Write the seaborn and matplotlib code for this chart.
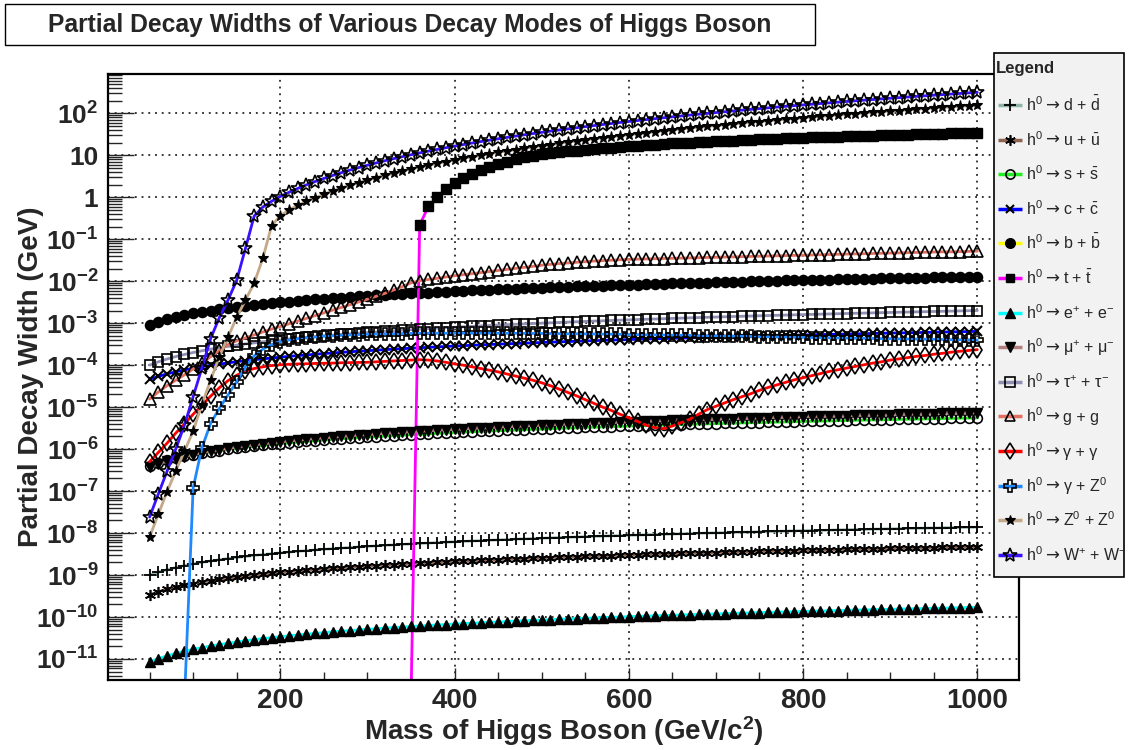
import numpy as np
import matplotlib
matplotlib.use("Agg")
import matplotlib.pyplot as plt
from matplotlib.patches import Rectangle
from matplotlib.ticker import LogLocator, NullFormatter, FixedLocator
import seaborn as sns

# ---------------- data ----------------
MASS = list(range(50, 1001, 10))          # Higgs mass (GeV/c^2), 96 points
NAN = np.nan

W_DD = [1.00, 1.17, 1.34, 1.51, 1.68, 1.84, 2.00, 2.16, 2.31, 2.47,
        2.62, 2.77, 2.93, 3.08, 3.23, 3.37, 3.52, 3.67, 3.81, 3.96,
        4.10, 4.25, 4.39, 4.53, 4.67, 4.81, 4.95, 5.09, 5.23, 5.37,
        5.51, 5.65, 5.78, 5.92, 6.06, 6.19, 6.33, 6.47, 6.60, 6.73,
        6.87, 7.00, 7.14, 7.27, 7.40, 7.53, 7.67, 7.80, 7.93, 8.06,
        8.19, 8.32, 8.45, 8.58, 8.71, 8.84, 8.97, 9.10, 9.23, 9.35,
        9.48, 9.61, 9.74, 9.87, 9.99, 10.1, 10.2, 10.4, 10.5, 10.6,
        10.7, 10.9, 11.0, 11.1, 11.3, 11.4, 11.5, 11.6, 11.7, 11.9,
        12.0, 12.1, 12.2, 12.4, 12.5, 12.6, 12.7, 12.9, 13.0, 13.1,
        13.2, 13.3, 13.5, 13.6, 13.7, 13.8]            # x 1e-9 GeV
W_UU = [3.40, 3.99, 4.57, 5.13, 5.70, 6.25, 6.79, 7.33, 7.86, 8.38,
        8.91, 9.43, 9.95, 10.5, 11.0, 11.5, 12.0, 12.5, 13.0, 13.5,
        13.9, 14.4, 14.9, 15.4, 15.9, 16.4, 16.8, 17.3, 17.8, 18.3,
        18.7, 19.2, 19.7, 20.1, 20.6, 21.1, 21.5, 22.0, 22.4, 22.9,
        23.4, 23.8, 24.3, 24.7, 25.2, 25.6, 26.1, 26.5, 27.0, 27.4,
        27.8, 28.3, 28.7, 29.2, 29.6, 30.1, 30.5, 30.9, 31.4, 31.8,
        32.2, 32.7, 33.1, 33.5, 34.0, 34.4, 34.9, 35.3, 35.7, 36.1,
        36.6, 37.0, 37.4, 37.8, 38.3, 38.7, 39.1, 39.5, 40.0, 40.4,
        40.8, 41.2, 41.6, 42.1, 42.5, 42.9, 43.3, 43.7, 44.1, 44.5,
        44.9, 45.4, 45.8, 46.2, 46.6, 47.1]            # x 1e-10 GeV
W_SS = [4.00, 4.69, 5.37, 6.04, 6.70, 7.35, 7.99, 8.62, 9.24, 9.86,
        10.5, 11.1, 11.7, 12.3, 12.9, 13.5, 14.1, 14.7, 15.3, 15.8,
        16.4, 17.0, 17.6, 18.1, 18.7, 19.2, 19.8, 20.4, 20.9, 21.5,
        22.0, 22.6, 23.1, 23.7, 24.2, 24.8, 25.3, 25.9, 26.4, 26.9,
        27.5, 28.0, 28.5, 29.1, 29.6, 30.1, 30.7, 31.2, 31.7, 32.2,
        32.8, 33.3, 33.8, 34.3, 34.8, 35.4, 35.9, 36.4, 36.9, 37.4,
        37.9, 38.4, 39.0, 39.5, 40.0, 40.5, 41.0, 41.5, 42.0, 42.5,
        43.0, 43.5, 44.0, 44.5, 45.0, 45.5, 46.0, 46.5, 47.0, 47.5,
        48.0, 48.5, 49.0, 49.5, 50.0, 50.4, 50.9, 51.4, 51.9, 52.4,
        52.9, 53.4, 53.9, 54.4, 54.8, 55.4]            # x 1e-7 GeV
W_CC = [4.60, 5.40, 6.18, 6.95, 7.71, 8.45, 9.19, 9.91, 10.6, 11.3,
        12.1, 12.8, 13.5, 14.1, 14.8, 15.5, 16.2, 16.9, 17.5, 18.2,
        18.9, 19.5, 20.2, 20.8, 21.5, 22.1, 22.8, 23.4, 24.1, 24.7,
        25.3, 26.0, 26.6, 27.2, 27.9, 28.5, 29.1, 29.7, 30.4, 31.0,
        31.6, 32.2, 32.8, 33.4, 34.0, 34.7, 35.3, 35.9, 36.5, 37.1,
        37.7, 38.3, 38.9, 39.5, 40.1, 40.7, 41.3, 41.9, 42.4, 43.0,
        43.6, 44.2, 44.8, 45.4, 46.0, 46.6, 47.2, 47.7, 48.3, 48.9,
        49.5, 50.0, 50.6, 51.2, 51.8, 52.3, 52.9, 53.5, 54.1, 54.6,
        55.2, 55.8, 56.3, 56.9, 57.5, 58.0, 58.6, 59.2, 59.7, 60.3,
        60.8, 61.4, 62.0, 62.5, 63.1, 63.7]            # x 1e-5 GeV
W_BB = [9.30, 10.9, 12.5, 14.0, 15.6, 17.1, 18.6, 20.0, 21.5, 22.9,
        24.4, 25.8, 27.2, 28.6, 30.0, 31.4, 32.7, 34.1, 35.5, 36.8,
        38.1, 39.5, 40.8, 42.1, 43.4, 44.8, 46.1, 47.4, 48.7, 50.0,
        51.2, 52.5, 53.8, 55.1, 56.3, 57.6, 58.9, 60.1, 61.4, 62.6,
        63.9, 65.1, 66.4, 67.6, 68.8, 70.1, 71.3, 72.5, 73.7, 75.0,
        76.2, 77.4, 78.6, 79.8, 81.0, 82.2, 83.4, 84.6, 85.8, 87.0,
        88.2, 89.4, 90.6, 91.7, 92.9, 94.1, 95.3, 96.4, 97.7, 98.8,
        100., 101., 102., 104., 105., 106., 107., 108., 109., 110.,
        112., 113., 114., 115., 116., 117., 118., 120., 121., 122.,
        123., 124., 125., 126., 128., 129.]            # x 1e-4 GeV
W_TT = [NAN, NAN, NAN, NAN, NAN, NAN, NAN, NAN, NAN, NAN,
        NAN, NAN, NAN, NAN, NAN, NAN, NAN, NAN, NAN, NAN,
        NAN, NAN, NAN, NAN, NAN, NAN, NAN, NAN, NAN, NAN,
        1e-12, 0.219, 0.603, 1.02, 1.58, 2.19, 2.82, 3.55, 4.37, 5.25,
        6.17, 7.08, 7.94, 8.91, 9.77, 10.7, 11.2, 11.7, 12.3, 12.9,
        13.5, 14.0, 14.6, 15.1, 15.7, 16.2, 16.8, 17.4, 17.9, 18.5,
        19.1, 19.5, 20.0, 20.4, 20.9, 21.4, 21.9, 22.4, 22.9, 23.4,
        24.0, 24.4, 24.9, 25.4, 25.8, 26.3, 26.7, 27.0, 27.4, 27.8,
        28.2, 28.6, 29.0, 29.4, 29.8, 30.2, 30.6, 31.0, 31.5, 31.9,
        32.4, 32.8, 33.3, 33.7, 34.2, 34.7]            # GeV
W_EE = [8.50, 10.2, 11.9, 13.6, 15.3, 17.0, 18.7, 20.4, 22.1, 23.8,
        25.5, 27.2, 28.9, 30.6, 32.3, 34.0, 35.7, 37.4, 39.1, 40.8,
        42.5, 44.2, 45.9, 47.6, 49.3, 51.0, 52.7, 54.4, 56.1, 57.8,
        59.5, 61.2, 62.9, 64.6, 66.3, 68.0, 69.7, 71.4, 73.1, 74.8,
        76.5, 78.2, 79.9, 81.6, 83.3, 85.0, 86.7, 88.4, 90.1, 91.8,
        93.5, 95.2, 96.9, 98.6, 100.3, 102.0, 103.7, 105.4, 107.1, 108.8,
        110.5, 112.2, 113.9, 115.6, 117.3, 119.0, 120.7, 122.4, 124.1, 125.8,
        127.5, 129.2, 130.9, 132.6, 134.3, 136.0, 137.7, 139.4, 141.1, 142.8,
        144.5, 146.2, 147.9, 149.6, 151.3, 153.0, 154.7, 156.4, 158.1, 159.8,
        161.5, 163.2, 164.9, 166.6, 168.3, 170.0]      # x 1e-12 GeV
W_MUMU = [3.70, 4.44, 5.18, 5.92, 6.66, 7.40, 8.14, 8.88, 9.62, 10.36,
          11.10, 11.84, 12.58, 13.32, 14.06, 14.80, 15.54, 16.28, 17.02, 17.76,
          18.50, 19.24, 19.98, 20.72, 21.46, 22.20, 22.94, 23.68, 24.42, 25.16,
          25.90, 26.64, 27.38, 28.12, 28.86, 29.60, 30.34, 31.08, 31.82, 32.56,
          33.30, 34.04, 34.78, 35.52, 36.26, 37.00, 37.74, 38.48, 39.22, 39.96,
          40.70, 41.44, 42.18, 42.92, 43.66, 44.40, 45.14, 45.88, 46.62, 47.36,
          48.10, 48.84, 49.58, 50.32, 51.06, 51.80, 52.54, 53.28, 54.02, 54.76,
          55.50, 56.24, 56.98, 57.72, 58.46, 59.20, 59.94, 60.68, 61.42, 62.16,
          62.90, 63.64, 64.38, 65.12, 65.86, 66.60, 67.34, 68.08, 68.82, 69.56,
          70.30, 71.04, 71.78, 72.52, 73.26, 74.00]    # x 1e-7 GeV
W_TAUTAU = [1.0, 1.2, 1.4, 1.6, 1.8, 2.0, 2.2, 2.4, 2.6, 2.8,
            3.0, 3.2, 3.4, 3.6, 3.8, 4.0, 4.2, 4.4, 4.6, 4.8,
            5.0, 5.2, 5.4, 5.6, 5.8, 6.0, 6.2, 6.4, 6.6, 6.8,
            7.0, 7.2, 7.4, 7.6, 7.8, 8.0, 8.2, 8.4, 8.6, 8.8,
            9.0, 9.2, 9.4, 9.6, 9.8, 10.0, 10.2, 10.4, 10.6, 10.8,
            11.0, 11.2, 11.4, 11.6, 11.8, 12.0, 12.2, 12.4, 12.6, 12.8,
            13.0, 13.2, 13.4, 13.6, 13.8, 14.0, 14.2, 14.4, 14.6, 14.8,
            15.0, 15.2, 15.4, 15.6, 15.8, 16.0, 16.2, 16.4, 16.6, 16.8,
            17.0, 17.2, 17.4, 17.6, 17.8, 18.0, 18.2, 18.4, 18.6, 18.8,
            19.0, 19.2, 19.4, 19.6, 19.8, 20.0]        # x 1e-4 GeV
W_GG = [1.55e-5, 2.29e-5, 3.24e-5, 4.37e-5, 5.89e-5, 8.13e-5, 1.12e-4, 1.58e-4, 2.24e-4, 3.09e-4,
        3.80e-4, 4.47e-4, 5.25e-4, 6.17e-4, 7.24e-4, 8.32e-4, 9.66e-4, 1.12e-3, 1.30e-3, 1.51e-3,
        1.76e-3, 2.04e-3, 2.37e-3, 2.75e-3, 3.20e-3, 3.72e-3, 4.37e-3, 5.13e-3, 6.17e-3, 7.41e-3,
        9.12e-3, 1.02e-2, 1.10e-2, 1.17e-2, 1.26e-2, 1.35e-2, 1.43e-2, 1.51e-2, 1.60e-2, 1.70e-2,
        1.80e-2, 1.91e-2, 2.02e-2, 2.14e-2, 2.26e-2, 2.40e-2, 2.51e-2, 2.63e-2, 2.72e-2, 2.82e-2,
        2.92e-2, 3.02e-2, 3.09e-2, 3.16e-2, 3.24e-2, 3.31e-2, 3.35e-2, 3.39e-2, 3.43e-2, 3.47e-2,
        3.51e-2, 3.55e-2, 3.59e-2, 3.63e-2, 3.67e-2, 3.72e-2, 3.76e-2, 3.80e-2, 3.85e-2, 3.89e-2,
        3.94e-2, 3.98e-2, 4.03e-2, 4.07e-2, 4.12e-2, 4.17e-2, 4.22e-2, 4.27e-2, 4.32e-2, 4.37e-2,
        4.42e-2, 4.47e-2, 4.52e-2, 4.57e-2, 4.62e-2, 4.68e-2, 4.73e-2, 4.79e-2, 4.84e-2, 4.90e-2,
        4.95e-2, 5.01e-2, 5.01e-2, 5.07e-2, 5.13e-2, 5.19e-2]
W_AA = [5.01e-7, 8.32e-7, 1.38e-6, 2.40e-6, 3.98e-6, 6.76e-6, 1.10e-5, 1.82e-5, 2.88e-5, 4.27e-5,
        5.75e-5, 7.24e-5, 8.32e-5, 9.12e-5, 9.77e-5, 1.02e-4, 1.05e-4, 1.07e-4, 1.08e-4, 1.10e-4,
        1.11e-4, 1.12e-4, 1.14e-4, 1.15e-4, 1.16e-4, 1.17e-4, 1.20e-4, 1.23e-4, 1.26e-4, 1.29e-4,
        1.32e-4, 1.35e-4, 1.32e-4, 1.26e-4, 1.17e-4, 1.07e-4, 1.00e-4, 9.12e-5, 8.32e-5, 7.59e-5,
        6.92e-5, 6.17e-5, 5.50e-5, 4.90e-5, 4.37e-5, 3.80e-5, 3.24e-5, 2.69e-5, 2.24e-5, 1.86e-5,
        1.51e-5, 1.23e-5, 1.00e-5, 8.32e-6, 6.76e-6, 5.62e-6, 4.57e-6, 3.72e-6, 3.24e-6, 3.09e-6,
        3.55e-6, 4.27e-6, 5.13e-6, 6.76e-6, 8.71e-6, 1.05e-5, 1.26e-5, 1.51e-5, 1.78e-5, 2.09e-5,
        2.51e-5, 2.95e-5, 3.39e-5, 3.89e-5, 4.47e-5, 5.01e-5, 5.62e-5, 6.31e-5, 7.08e-5, 7.76e-5,
        8.51e-5, 9.33e-5, 1.02e-4, 1.12e-4, 1.20e-4, 1.32e-4, 1.41e-4, 1.51e-4, 1.62e-4, 1.70e-4,
        1.82e-4, 1.91e-4, 2.04e-4, 2.14e-4, 2.24e-4, 2.34e-4]
W_AZ = [NAN, NAN, NAN, NAN, 1e-12, 1.20e-7, 1.07e-6, 4.07e-6, 9.33e-6, 1.95e-5,
        4.07e-5, 9.12e-5, 1.66e-4, 2.40e-4, 3.09e-4, 3.63e-4, 3.98e-4, 4.27e-4, 4.47e-4, 4.68e-4,
        4.90e-4, 5.01e-4, 5.13e-4, 5.25e-4, 5.37e-4, 5.43e-4, 5.50e-4, 5.56e-4, 5.62e-4, 5.65e-4,
        5.69e-4, 5.75e-4, 5.75e-4, 5.75e-4, 5.75e-4, 5.75e-4, 5.75e-4, 5.75e-4, 5.75e-4, 5.75e-4,
        5.75e-4, 5.75e-4, 5.73e-4, 5.71e-4, 5.70e-4, 5.69e-4, 5.66e-4, 5.64e-4, 5.61e-4, 5.59e-4,
        5.56e-4, 5.53e-4, 5.49e-4, 5.45e-4, 5.41e-4, 5.37e-4, 5.33e-4, 5.30e-4, 5.26e-4, 5.22e-4,
        5.19e-4, 5.15e-4, 5.12e-4, 5.08e-4, 5.05e-4, 5.01e-4, 4.97e-4, 4.92e-4, 4.88e-4, 4.83e-4,
        4.79e-4, 4.75e-4, 4.70e-4, 4.66e-4, 4.61e-4, 4.57e-4, 4.54e-4, 4.51e-4, 4.48e-4, 4.45e-4,
        4.42e-4, 4.39e-4, 4.36e-4, 4.33e-4, 4.30e-4, 4.27e-4, 4.24e-4, 4.21e-4, 4.18e-4, 4.15e-4,
        4.12e-4, 4.09e-4, 4.06e-4, 4.04e-4, 4.01e-4, 3.98e-4]
W_ZZ = [7.94e-9, 2.82e-8, 9.55e-8, 3.02e-7, 8.91e-7, 2.69e-6, 1.15e-5, 4.37e-5, 1.58e-4, 4.68e-4,
        1.38e-3, 3.55e-3, 8.91e-3, 3.55e-2, 0.209, 0.363, 0.496, 0.638, 0.794, 0.973,
        1.175, 1.396, 1.644, 1.919, 2.223, 2.553, 2.917, 3.311, 3.733, 4.188,
        4.677, 5.212, 5.768, 6.368, 6.998, 7.674, 8.411, 9.170, 9.969, 10.81,
        11.70, 12.63, 13.60, 14.62, 15.69, 16.81, 17.98, 19.19, 20.47, 21.79,
        23.16, 24.59, 26.08, 27.62, 29.22, 30.87, 32.59, 34.36, 36.20, 38.10,
        40.06, 42.09, 44.18, 46.34, 48.56, 50.85, 53.21, 55.64, 58.14, 60.72,
        63.37, 66.09, 68.89, 71.76, 74.71, 77.73, 80.84, 84.03, 87.30, 90.65,
        94.08, 97.60, 101.2, 104.9, 108.6, 112.5, 116.5, 120.5, 124.6, 128.8,
        133.1, 137.5, 142.1, 146.7, 151.3, 156.1]
W_WW = [2.40e-8, 8.51e-8, 2.95e-7, 1.00e-6, 3.72e-6, 1.78e-5, 8.51e-5, 4.27e-4, 1.35e-3, 3.55e-3,
        1.05e-2, 6.03e-2, 0.355, 0.585, 0.802, 1.04, 1.313, 1.621, 1.971, 2.365,
        2.806, 3.296, 3.838, 4.434, 5.085, 5.794, 6.564, 7.396, 8.29, 9.25,
        10.28, 11.37, 12.55, 13.79, 15.11, 16.50, 17.97, 19.52, 21.16, 22.89,
        24.70, 26.60, 28.59, 30.68, 32.86, 35.14, 37.51, 39.98, 42.57, 45.25,
        48.03, 50.93, 53.95, 57.07, 60.30, 63.66, 67.12, 70.72, 74.43, 78.26,
        82.22, 86.32, 90.54, 94.90, 99.39, 104.0, 108.8, 113.7, 118.8, 123.9,
        129.5, 134.7, 140.4, 146.2, 152.1, 158.2, 164.4, 170.8, 177.4, 184.1,
        191.0, 198.1, 205.3, 212.7, 220.3, 228.1, 236.0, 244.1, 252.4, 260.9,
        269.5, 278.4, 287.4, 296.7, 306.1, 315.7]

# legend label: "h^0 -> <final state>"
LABEL_LHS = r'h$^{0}$'
LABEL_ARROW = '→'
LABEL_RHS = [r'd + $\bar{\mathrm{d}}$', r'u + $\bar{\mathrm{u}}$', r's + $\bar{\mathrm{s}}$',
             r'c + $\bar{\mathrm{c}}$', r'b + $\bar{\mathrm{b}}$', r't + $\bar{\mathrm{t}}$',
             r'e$^{+}$ + e$^{-}$', r'μ$^{+}$ + μ$^{-}$', r'τ$^{+}$ + τ$^{-}$',
             'g + g', 'γ + γ', r'γ + Z$^{0}$', r'Z$^{0}$ + Z$^{0}$', r'W$^{+}$ + W$^{-}$']
UNITS = [1e-9, 1e-10, 1e-7, 1e-5, 1e-4, 1.0, 1e-12, 1e-7, 1e-4, 1.0, 1.0, 1.0, 1.0, 1.0]
SERIES = [W_DD, W_UU, W_SS, W_CC, W_BB, W_TT, W_EE, W_MUMU, W_TAUTAU, W_GG, W_AA, W_AZ, W_ZZ, W_WW]

XTICKS = [200, 400, 600, 800, 1000]
YTICK_EXP = list(range(-11, 3))
YTICK_LABELS = [r'$\mathbf{10^{-11}}$', r'$\mathbf{10^{-10}}$', r'$\mathbf{10^{-9}}$',
                r'$\mathbf{10^{-8}}$', r'$\mathbf{10^{-7}}$', r'$\mathbf{10^{-6}}$',
                r'$\mathbf{10^{-5}}$', r'$\mathbf{10^{-4}}$', r'$\mathbf{10^{-3}}$',
                r'$\mathbf{10^{-2}}$', r'$\mathbf{10^{-1}}$', '1', '10', r'$\mathbf{10^{2}}$']
TITLE = "Partial Decay Widths of Various Decay Modes of Higgs Boson"

# ---------------- styles ----------------
# (line colour, marker, size, filled, edge width)
STYLES = [
    ("#8fb3a9", "+", 8.5, True, 1.3),
    ("#8c6450", (6, 2, 0), 8, True, 1.2),
    ("#22ee22", "o", 7, False, 1.2),
    ("#0000ff", "x", 6.5, True, 1.5),
    ("#ffff00", "o", 7.3, True, 1.0),
    ("#ff00ff", "s", 6.8, True, 1.0),
    ("#00ffff", "^", 7, True, 1.0),
    ("#b07f7f", "v", 7, True, 1.0),
    ("#9090b4", "s", 7.3, False, 1.2),
    ("#e07060", "^", 8, False, 1.2),
    ("#ff0000", "d", 8.5, False, 1.2),
    ("#1e88ff", "P", 8.5, False, 1.2),
    ("#c4a888", "*", 8, True, 0.8),
    ("#3a10ff", "*", 10.5, False, 1.2),
]

sns.set_style("white")
plt.rcParams["font.family"] = ["Liberation Sans", "DejaVu Sans"]
plt.rcParams["mathtext.fontset"] = "custom"
plt.rcParams["mathtext.rm"] = "Liberation Sans"
plt.rcParams["mathtext.it"] = "Liberation Sans:italic"
plt.rcParams["mathtext.bf"] = "Liberation Sans:bold"
plt.rcParams["mathtext.default"] = "regular"

W, H = 1135, 750
fig = plt.figure(figsize=(W / 100, H / 100), dpi=100)
fig.patch.set_facecolor("white")
ax = fig.add_axes([108.2 / W, 70 / H, 910.5 / W, 606 / H])
ax.set_facecolor("white")

for vals, unit, (col, mk, ms, filled, mew) in zip(SERIES, UNITS, STYLES):
    y = np.array(vals, dtype=float) * unit
    sns.lineplot(x=MASS, y=y, ax=ax, color=col, linewidth=2.0,
                 marker=mk, markersize=ms,
                 markerfacecolor=("black" if filled else "none"),
                 markeredgecolor="black", markeredgewidth=mew,
                 estimator=None, sort=False, errorbar=None, legend=False)

ax.set_yscale("log")
ax.set_xlim(2.5, 1047.5)
ax.set_ylim(3.16e-12, 863)

ax.xaxis.set_major_locator(FixedLocator(XTICKS))
ax.xaxis.set_minor_locator(FixedLocator([m for m in range(50, 1050, 50) if m % 200]))
ax.set_xticklabels([str(v) for v in XTICKS])
ax.yaxis.set_major_locator(FixedLocator([10.0 ** k for k in YTICK_EXP]))
ax.yaxis.set_minor_locator(LogLocator(base=10, subs=range(2, 10), numticks=100))
ax.yaxis.set_minor_formatter(NullFormatter())
ax.set_yticklabels(YTICK_LABELS)

ax.tick_params(axis="y", which="major", direction="in", length=18.5, width=1.0,
               labelsize=19, pad=7, left=True, right=False)
ax.tick_params(axis="y", which="minor", direction="in", length=10, width=1.0,
               left=True, right=False)
ax.tick_params(axis="x", which="major", direction="in", length=8.6, width=1.0,
               labelsize=20, pad=6, bottom=True, top=False)
ax.tick_params(axis="x", which="minor", direction="in", length=5.8, width=1.0,
               bottom=True, top=False)
for lbl in ax.get_xticklabels() + ax.get_yticklabels():
    lbl.set_fontweight("bold")

ax.grid(True, which="major", color="black", linestyle=(0, (1.2, 3.2)), linewidth=1.1)
ax.set_axisbelow(True)
for sp in ax.spines.values():
    sp.set_color("black")
    sp.set_linewidth(1.6)

ax.set_xlabel(r"Mass of Higgs Boson (GeV/c$^{\mathbf{2}}$)", fontsize=20, fontweight="bold")
ax.xaxis.set_label_coords(0.5, -0.057)
ax.set_ylabel("Partial Decay Width (GeV)", fontsize=20, fontweight="bold")
ax.yaxis.set_label_coords(-0.071, 0.5)

# title box
fig.patches.append(Rectangle((5 / W, 1 - 45 / H), 810 / W, 41 / H, transform=fig.transFigure,
                             facecolor="white", edgecolor="black", linewidth=1.0))
fig.text(410 / W, 1 - 25 / H, TITLE, ha="center", va="center", fontsize=17.7, fontweight="bold")

# legend
lw_, lh_ = 131, 525
lax = fig.add_axes([993 / W, 1 - 577 / H, lw_ / W, lh_ / H])
lax.set_xlim(0, lw_)
lax.set_ylim(lh_, 0)
lax.axis("off")
lax.add_patch(Rectangle((0.5, 0.5), lw_ - 1, lh_ - 1, facecolor="#f2f2f2", edgecolor="black",
                        linewidth=1.2, clip_on=False))
lax.text(3, 17, "Legend", fontsize=12, fontweight="bold", va="center", ha="left")
for i, (rhs, (col, mk, ms, filled, mew)) in enumerate(zip(LABEL_RHS, STYLES)):
    yy = 53 + i * 34.6
    lax.plot([5, 29], [yy, yy], color=col, linewidth=2.5, solid_capstyle="butt")
    lax.plot([17], [yy], marker=mk, markersize=ms * 0.95,
             markerfacecolor=("black" if filled else "none"),
             markeredgecolor="black", markeredgewidth=mew, linestyle="none")
    base = yy + 6
    lax.text(33, base, LABEL_LHS, fontsize=11.5, va="baseline", ha="left")
    lax.text(52, base - 0.5, LABEL_ARROW, fontsize=12, va="baseline", ha="left",
             family=["DejaVu Sans"])
    lax.text(70, base, rhs, fontsize=11.5, va="baseline", ha="left")

fig.savefig("out.png", dpi=100)
